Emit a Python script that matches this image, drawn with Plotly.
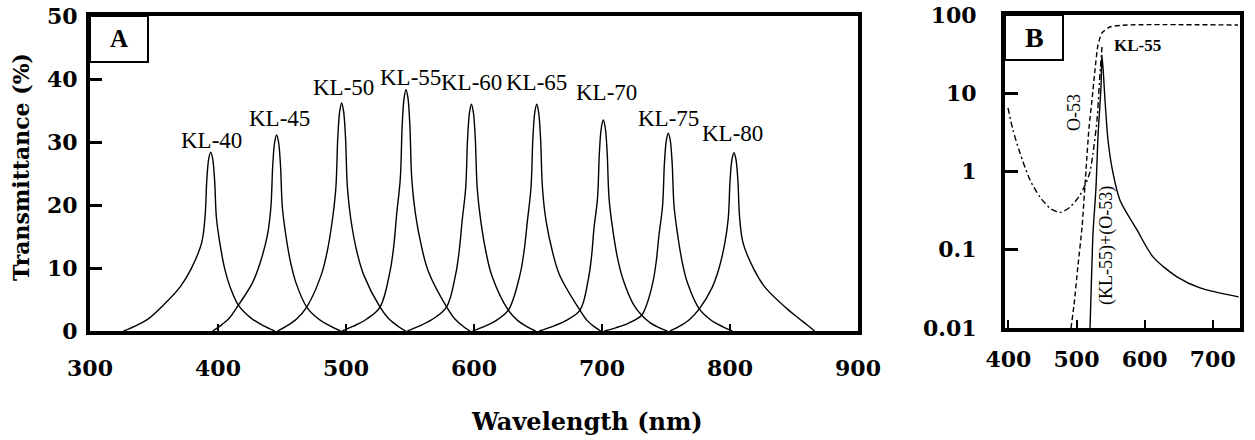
import plotly.graph_objects as go

W, H = 1255, 440

# ---------------- Panel A data (wavelength nm, transmittance %) ----------------
filters = ["KL-40", "KL-45", "KL-50", "KL-55", "KL-60", "KL-65", "KL-70", "KL-75", "KL-80"]

kl40_nm = [326.3, 335.6, 346.4, 357.3, 370.3, 378.9, 387.1, 389.8, 391.3, 392.8, 394.3, 395.8, 397.3, 398.8, 401.5, 405.3, 409.5, 415.9, 425.8, 435.8, 444.3]
kl40_T = [0, 0.82, 2.05, 4.1, 6.96, 9.83, 13.9, 17.9, 24.1, 27.4, 28.4, 27.4, 24.1, 17.9, 13.9, 9.83, 6.96, 4.1, 2.05, 0.82, 0]

kl45_nm = [395.8, 401.8, 408.9, 415.9, 426.8, 432.9, 438.6, 441.3, 442.8, 444.3, 445.8, 447.3, 448.8, 450.3, 453.0, 456.8, 461.0, 469.3, 478.6, 487.9, 495.8]
kl45_T = [0, 0.82, 2.05, 4.1, 7.6, 10.8, 15.2, 19.6, 26.4, 30.0, 31.1, 30.0, 26.4, 19.6, 15.2, 10.8, 7.6, 3.8, 1.9, 0.76, 0]

kl50_nm = [446.6, 453.4, 461.4, 469.3, 480.6, 485.2, 489.4, 492.1, 493.6, 495.1, 496.6, 498.1, 499.6, 501.1, 503.8, 508.6, 513.9, 526.6, 533.6, 540.6, 546.6]
kl50_T = [0, 0.76, 1.9, 3.8, 8.87, 12.5, 17.7, 22.8, 30.8, 34.9, 36.2, 34.9, 30.8, 22.8, 17.7, 12.5, 8.87, 3.8, 1.9, 0.76, 0]

kl55_nm = [496.9, 505.8, 516.2, 526.6, 534.3, 537.2, 539.7, 542.4, 543.9, 545.4, 546.9, 548.4, 549.9, 551.4, 554.1, 559.1, 564.5, 578.7, 585.1, 591.4, 596.9]
kl55_T = [0, 0.76, 1.9, 3.8, 9.38, 13.3, 18.8, 24.1, 32.6, 37.0, 38.3, 37.0, 32.6, 24.1, 18.8, 13.3, 9.38, 3.8, 1.9, 0.76, 0]

kl60_nm = [548.0, 557.1, 567.8, 578.5, 585.5, 588.3, 590.8, 593.5, 595.0, 596.5, 598.0, 599.5, 601.0, 602.5, 605.2, 609.4, 613.9, 626.8, 634.2, 641.6, 648.0]
kl60_T = [0, 0.76, 1.9, 3.8, 8.82, 12.5, 17.6, 22.7, 30.6, 34.7, 36.0, 34.7, 30.6, 22.7, 17.6, 12.5, 8.82, 3.3, 1.65, 0.66, 0]

kl65_nm = [599.0, 607.3, 617.1, 626.8, 635.8, 639.0, 641.8, 644.5, 646.0, 647.5, 649.0, 650.5, 652.0, 653.5, 656.2, 661.4, 667.0, 682.8, 688.5, 694.1, 699.0]
kl65_T = [0, 0.66, 1.65, 3.3, 8.82, 12.5, 17.6, 22.7, 30.6, 34.7, 36.0, 34.7, 30.6, 22.7, 17.6, 12.5, 8.82, 3.3, 1.65, 0.66, 0]

kl70_nm = [651.0, 660.5, 671.7, 682.8, 689.3, 691.7, 693.8, 696.5, 698.0, 699.5, 701.0, 702.5, 704.0, 705.5, 708.2, 712.1, 716.4, 724.9, 731.0, 738.0, 745.0, 751.0]
kl70_T = [0, 0.66, 1.65, 3.3, 8.21, 11.6, 16.4, 21.1, 28.5, 32.3, 33.5, 32.3, 28.5, 21.1, 16.4, 11.6, 8.21, 4.1, 2.5, 1.25, 0.5, 0]

kl75_nm = [701.8, 710.6, 720.8, 731.0, 734.3, 739.7, 742.3, 744.6, 747.3, 748.8, 750.3, 751.8, 753.3, 754.8, 756.3, 759.0, 762.7, 766.7, 776.0, 785.0, 794.1, 801.8]
kl75_T = [0, 0.5, 1.25, 2.5, 3.85, 7.69, 10.9, 15.4, 19.8, 26.7, 30.3, 31.4, 30.3, 26.7, 19.8, 15.4, 10.9, 7.69, 3.5, 1.75, 0.7, 0]

kl80_nm = [753.1, 760.0, 768.0, 776.0, 786.1, 791.2, 795.9, 798.6, 800.1, 801.6, 803.1, 804.6, 806.1, 807.6, 810.3, 818.7, 827.4, 844.9, 853.1, 860.1, 866.1]
kl80_T = [0, 0.7, 1.75, 3.5, 6.93, 9.79, 13.9, 17.8, 24.1, 27.3, 28.3, 27.3, 24.1, 17.8, 13.9, 9.79, 6.93, 3.47, 2.1, 1.0, 0]

series_A = [
    (kl40_nm, kl40_T), (kl45_nm, kl45_T), (kl50_nm, kl50_T),
    (kl55_nm, kl55_T), (kl60_nm, kl60_T), (kl65_nm, kl65_T),
    (kl70_nm, kl70_T), (kl75_nm, kl75_T), (kl80_nm, kl80_T),
]

# label anchor (nm, %)
label_nm = [395.3, 448.4, 498.4, 550.0, 598.4, 649.2, 703.9, 751.6, 801.6]
label_T = [30.3, 33.8, 38.7, 40.3, 39.4, 39.4, 37.9, 33.8, 31.3]

xA_ticks = [300, 400, 500, 600, 700, 800, 900]
yA_ticks = [0, 10, 20, 30, 40, 50]

# ---------------- Panel B data (log scale) ----------------
kl55b_nm = [399.4, 406.7, 417.0, 431.7, 446.4, 461.1, 475.7, 490.4, 505.1, 513.9, 519.8, 524.2, 530.1, 534.5, 537.4]
kl55b_T = [6.5, 3.39, 1.72, 0.78, 0.47, 0.34, 0.30, 0.35, 0.50, 0.71, 0.99, 1.72, 4.55, 18.2, 39.0]

o53_nm = [491.9, 496.3, 502.2, 508.0, 513.9, 518.3, 522.7, 527.1, 531.5, 537.4, 549.1, 574.1, 737.0]
o53_T = [0.0100, 0.0197, 0.0638, 0.190, 1.04, 3.60, 8.20, 19.8, 41.4, 58.9, 70.3, 74.5, 74.5]

comb_nm = [519.8, 522.7, 524.2, 528.6, 531.5, 535.9, 537.4, 541.8, 546.2, 553.5, 563.8, 588.8, 612.3, 647.5, 681.3, 738.0]
comb_T = [0.010, 0.068, 0.164, 0.63, 2.76, 12.0, 30.8, 8.2, 2.53, 0.96, 0.43, 0.179, 0.081, 0.045, 0.0325, 0.025]

xB_ticks = [400, 500, 600, 700]
yB_ticks = [0.01, 0.1, 1, 10, 100]
yB_text = ["0.01", "0.1", "1", "10", "100"]


def px_x(p):
    return p / W


def px_y(p):
    return 1 - p / H


fig = go.Figure()

for nm, T in series_A:
    fig.add_trace(go.Scatter(
        x=nm, y=T, xaxis="x", yaxis="y", mode="lines",
        line=dict(color="black", width=1.4, shape="spline", smoothing=1.0),
        hoverinfo="skip", showlegend=False,
    ))

fig.add_trace(go.Scatter(
    x=kl55b_nm, y=kl55b_T, xaxis="x2", yaxis="y2", mode="lines",
    line=dict(color="black", width=1.4, dash="6px,3px,2px,3px", shape="spline", smoothing=0.7),
    showlegend=False,
))
fig.add_trace(go.Scatter(
    x=o53_nm, y=o53_T, xaxis="x2", yaxis="y2", mode="lines",
    line=dict(color="black", width=1.4, dash="5px,3px", shape="spline", smoothing=0.6),
    showlegend=False,
))
fig.add_trace(go.Scatter(
    x=comb_nm, y=comb_T, xaxis="x2", yaxis="y2", mode="lines",
    line=dict(color="black", width=1.4, shape="spline", smoothing=0.8),
    showlegend=False,
))

tickfont = dict(family="DejaVu Serif", size=22, color="black", weight="bold")

axis_common = dict(
    showline=True, linewidth=4, linecolor="black", mirror=True,
    showgrid=False, zeroline=False, ticks="inside", tickcolor="black",
    tickfont=tickfont, automargin=False,
)

fig.update_layout(
    width=W, height=H,
    margin=dict(l=0, r=0, t=0, b=0),
    paper_bgcolor="white", plot_bgcolor="white",
    showlegend=False,
    xaxis=dict(domain=[px_x(90), px_x(858)], range=[300, 900], tickvals=xA_ticks,
               ticklen=7, tickwidth=2, ticklabelstandoff=15, anchor="y", **axis_common),
    yaxis=dict(domain=[px_y(331), px_y(16)], range=[0, 50], tickvals=yA_ticks,
               ticklen=12, tickwidth=3, ticklabelstandoff=4, anchor="x", **axis_common),
    xaxis2=dict(domain=[px_x(1005), px_x(1240)], range=[395, 740], tickvals=xB_ticks,
                ticklen=8, tickwidth=2, ticklabelstandoff=9, anchor="y2", **axis_common),
    yaxis2=dict(domain=[px_y(328), px_y(15)], type="log", range=[-2, 2], tickvals=yB_ticks,
                ticktext=yB_text, ticklen=13, tickwidth=3, ticklabelstandoff=20,
                anchor="x2", **axis_common),
)

annotations = []
for name, lx, ly in zip(filters, label_nm, label_T):
    annotations.append(dict(
        x=lx, y=ly, xref="x", yref="y", text=name, showarrow=False,
        font=dict(family="Liberation Serif", size=23, color="black"),
        xanchor="center", yanchor="middle",
    ))

C = dict(showarrow=False, xanchor="center", yanchor="middle")
annotations += [
    dict(x=588.8, y=1.604, xref="x2", yref="y2", text="KL-55",
         font=dict(family="Liberation Serif", size=17, color="black", weight="bold"), **C),
    dict(x=496.3, y=0.748, xref="x2", yref="y2", text="O-53", textangle=-90,
         font=dict(family="Liberation Serif", size=18, color="black"), **C),
    dict(x=544.7, y=-0.939, xref="x2", yref="y2", text="(KL-55)+(O-53)", textangle=-90,
         font=dict(family="Liberation Serif", size=18, color="black"), **C),
    dict(x=px_x(119), y=px_y(39), xref="paper", yref="paper", text="A",
         font=dict(family="Liberation Serif", size=25, color="black", weight="bold"), **C),
    dict(x=px_x(1034), y=px_y(37), xref="paper", yref="paper", text="B",
         font=dict(family="Liberation Serif", size=28, color="black", weight="bold"), **C),
    dict(x=px_x(21), y=px_y(167), xref="paper", yref="paper", text="Transmittance (%)",
         textangle=-90,
         font=dict(family="DejaVu Serif", size=22, color="black", weight="bold"), **C),
    dict(x=px_x(587), y=px_y(421), xref="paper", yref="paper", text="Wavelength (nm)",
         font=dict(family="DejaVu Serif", size=24, color="black", weight="bold"), **C),
]
fig.update_layout(annotations=annotations)

fig.update_layout(shapes=[
    dict(type="rect", xref="paper", yref="paper", x0=px_x(90), x1=px_x(148),
         y0=px_y(62), y1=px_y(16), line=dict(color="black", width=2)),
    dict(type="rect", xref="paper", yref="paper", x0=px_x(1005), x1=px_x(1063),
         y0=px_y(60), y1=px_y(15), line=dict(color="black", width=2)),
])

fig.write_html(
    "out.html",
    config={"displayModeBar": False},
    post_script="document.body.style.margin='0';document.body.style.overflow='hidden';",
)
